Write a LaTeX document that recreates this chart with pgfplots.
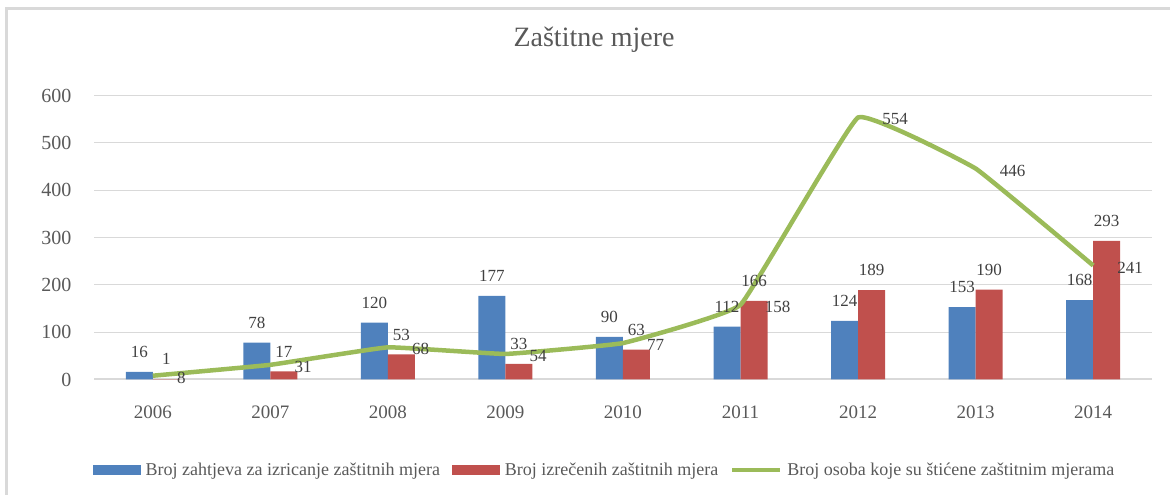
\documentclass[border=0pt]{standalone}
\usepackage{fontspec}
\setmainfont{Liberation Serif}
\usepackage{pgfplots}
\pgfplotsset{compat=1.18}
\definecolor{cblue}{HTML}{4F81BD}
\definecolor{cred}{HTML}{C0504D}
\definecolor{cgreen}{HTML}{9BBB59}
\definecolor{ctext}{HTML}{595959}
\definecolor{clab}{HTML}{404040}
\definecolor{cgrid}{HTML}{D9D9D9}
\begin{document}
\begin{tikzpicture}[x=1pt,y=1pt]
\useasboundingbox (0,0) rectangle (1170,495);
\draw[cgrid, line width=3pt] (6,-5) -- (6,486) -- (1180,486);
\begin{axis}[
  at={(94pt,115.5pt)}, anchor=south west,
  scale only axis, width=1058pt, height=283.8pt,
  xmin=-0.5, xmax=8.5, ymin=0, ymax=600,
  ytick={0,100,...,600},
  xtick={0,...,8},
  xticklabels={2006,2007,2008,2009,2010,2011,2012,2013,2014},
  axis line style={draw=none},
  major tick length=0pt,
  ymajorgrids, grid style={cgrid, line width=1pt},
  clip=false,
  /pgf/number format/assume math mode=true,
  yticklabel style={font=\fontsize{20}{22}\selectfont, text=ctext, xshift=-19pt},
  xticklabel style={font=\fontsize{19}{21}\selectfont, text=ctext, yshift=-23pt},
  ybar=0pt, bar width=27pt,
  title={Zaštitne mjere},
  title style={at={(axis description cs:0.4726,1.175)}, anchor=center, font=\fontsize{28}{30}\selectfont, text=ctext},
  legend columns=3,
  legend cell align=left,
  legend style={at={(axis description cs:0.4825,-0.319)}, anchor=center, draw=none, fill=none,
    font=\fontsize{18}{20}\selectfont, text=ctext,
    /tikz/every even column/.append style={column sep=10pt},
    /tikz/every odd column/.append style={column sep=3pt}},
]
\draw[cgrid, line width=2pt] (axis cs:-0.5,0) -- (axis cs:8.5,0);
\addplot[fill=cblue, draw=none,
  nodes near coords,
  every node near coord/.append style={anchor=south, inner sep=0pt, yshift=14pt, font=\fontsize{17}{19}\selectfont, text=clab},
  legend image code/.code={\fill[cblue] (0pt,-5pt) rectangle (48pt,5pt);}]
  coordinates {(0,16) (1,78) (2,120) (3,177) (4,90) (5,112) (6,124) (7,153) (8,168)};
\addlegendentry{Broj zahtjeva za izricanje zaštitnih mjera}
\addplot[fill=cred, draw=none,
  nodes near coords,
  every node near coord/.append style={anchor=south, inner sep=0pt, yshift=14pt, font=\fontsize{17}{19}\selectfont, text=clab},
  legend image code/.code={\fill[cred] (0pt,-5pt) rectangle (48pt,5pt);}]
  coordinates {(0,1) (1,17) (2,53) (3,33) (4,63) (5,166) (6,189) (7,190) (8,293)};
\addlegendentry{Broj izrečenih zaštitnih mjera}
\addplot[sharp plot, cgreen, line width=4.5pt, smooth, tension=0.15,
  nodes near coords,
  every node near coord/.append style={anchor=west, inner sep=0pt, xshift=22pt, yshift=-2pt, font=\fontsize{17}{19}\selectfont, text=clab},
  legend image code/.code={\draw[cgreen, line width=4pt] (0pt,0pt) -- (48pt,0pt);}]
  coordinates {(0,8) (1,31) (2,68) (3,54) (4,77) (5,158) (6,554) (7,446) (8,241)};
\addlegendentry{Broj osoba koje su štićene zaštitnim mjerama}
\end{axis}
\end{tikzpicture}
\end{document}
